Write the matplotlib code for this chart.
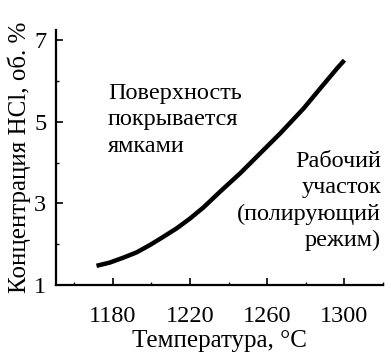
import matplotlib
matplotlib.use("Agg")
import matplotlib.pyplot as plt
from matplotlib.ticker import MultipleLocator

temperature = [1171.5, 1178.4, 1185.4, 1192.3, 1199.2, 1206.1, 1213.1, 1220.0,
               1226.9, 1235.6, 1246.0, 1256.4, 1266.8, 1278.9, 1287.5, 1296.2, 1300.0]
concentration = [1.47, 1.55, 1.67, 1.80, 1.98, 2.18, 2.39, 2.63,
                 2.90, 3.29, 3.74, 4.23, 4.72, 5.33, 5.82, 6.31, 6.51]
x_ticks = [1180, 1220, 1260, 1300]
y_ticks = [1, 3, 5, 7]

plt.rcParams['font.family'] = ['Liberation Serif', 'DejaVu Serif']

fig = plt.figure(figsize=(3.91, 3.57), dpi=100)
ax = fig.add_axes([56/391, 1-285/357, (383-56)/391, (285-30)/357])

ax.plot(temperature, concentration, color='black', lw=3.2,
        solid_capstyle='butt', solid_joinstyle='round')

ax.set_xlim(1150.5, 1320)
ax.set_ylim(1, 7.25)
ax.set_xticks(x_ticks)
ax.set_yticks(y_ticks)
ax.xaxis.set_minor_locator(MultipleLocator(20))
ax.yaxis.set_minor_locator(MultipleLocator(1))
ax.tick_params(which='major', direction='in', length=5, width=1.2, labelsize=17.5, pad=7)
ax.tick_params(axis='x', which='major', pad=15)
ax.tick_params(which='minor', direction='in', length=2.5, width=1.0)
for s in ['top', 'right']:
    ax.spines[s].set_visible(False)
for s in ['left', 'bottom']:
    ax.spines[s].set_linewidth(1.6)

ax.set_xlabel('Температура, °C', fontsize=18, labelpad=2)
ax.set_ylabel('Концентрация HCl, об. %', fontsize=18, labelpad=2)

ax.text(108/391, 1-83/357, 'Поверхность\nпокрывается\nямками', transform=fig.transFigure,
        fontsize=17.5, ha='left', va='top', linespacing=1.33)
ax.text(381/391, 1-151/357, 'Рабочий\nучасток\n(полирующий\nрежим)', transform=fig.transFigure,
        fontsize=17.5, ha='right', va='top', linespacing=1.33)

fig.savefig('out.png', dpi=100)
